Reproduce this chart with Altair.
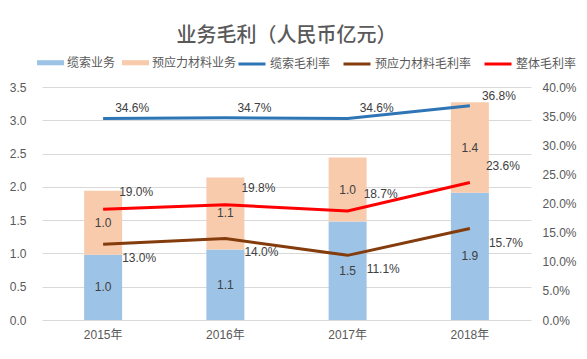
import altair as alt
import pandas as pd

# ---------------- data ----------------
years = ["2015年", "2016年", "2017年", "2018年"]
bar_series = ["缆索业务", "预应力材料业务"]
cable_profit = [0.98, 1.06, 1.48, 1.91]          # 缆索业务 (亿元)
prestress_profit = [0.96, 1.08, 0.96, 1.36]      # 预应力材料业务 (亿元)

line_series = ["缆索毛利率", "预应力材料毛利率", "整体毛利率"]
cable_margin = [0.346, 0.347, 0.346, 0.368]
prestress_margin = [0.130, 0.140, 0.111, 0.157]
total_margin = [0.190, 0.198, 0.187, 0.236]

left_ticks = [0, 0.5, 1.0, 1.5, 2.0, 2.5, 3.0, 3.5]
right_ticks = [0, 0.05, 0.10, 0.15, 0.20, 0.25, 0.30, 0.35, 0.40]

bar_colors = ["#9DC3E6", "#F8CBAD"]
line_colors = ["#2E75B6", "#843C0C", "#FF0000"]

# ---------------- tables ----------------
bars_df = pd.DataFrame(
    [{"year": y, "series": bar_series[0], "value": v, "order": 0} for y, v in zip(years, cable_profit)]
    + [{"year": y, "series": bar_series[1], "value": v, "order": 1} for y, v in zip(years, prestress_profit)]
)
lines_df = pd.DataFrame(
    [{"year": y, "series": s, "rate": r}
     for s, vals in zip(line_series, [cable_margin, prestress_margin, total_margin])
     for y, r in zip(years, vals)]
)

FONT_NUM = "Liberation Sans, Noto Sans CJK SC"
FONT_CJK = "Noto Sans CJK SC"
GREY = "#595959"
LABEL = "#404040"

x_axis = alt.Axis(labelAngle=0, ticks=False, domain=False, labelPadding=9,
                  labelFontSize=12, labelColor=GREY, labelFont=FONT_NUM)
x_scale = alt.Scale(paddingInner=0, paddingOuter=0)

left_axis = alt.Axis(values=left_ticks, format=".1f", ticks=False, domain=False,
                     labelOverlap=False, labelPadding=16, labelFontSize=12,
                     labelColor=GREY, labelFont=FONT_NUM,
                     gridColor="#D9D9D9", gridWidth=1)
right_axis = alt.Axis(orient="right", values=right_ticks, format=".1%", ticks=False,
                      domain=False, grid=False, labelOverlap=False, labelPadding=11,
                      labelFontSize=12, labelColor=GREY, labelFont=FONT_NUM)

y_left_scale = alt.Scale(domain=[0, 3.5], nice=False)
y_right_scale = alt.Scale(domain=[0, 0.4], nice=False)


def xenc():
    return alt.X("year:N", sort=years, title=None, scale=x_scale, axis=x_axis)


bars = alt.Chart(bars_df).mark_bar(size=38).encode(
    x=xenc(),
    y=alt.Y("value:Q", stack="zero", scale=y_left_scale, title=None, axis=left_axis),
    color=alt.Color("series:N", scale=alt.Scale(domain=bar_series, range=bar_colors),
                    legend=alt.Legend(title=None, orient="none", direction="horizontal",
                                      legendX=-5, legendY=-38, padding=0,
                                      symbolType="M-1,-0.19H1V0.19H-1Z", symbolSize=729,
                                      symbolStrokeWidth=0, labelOffset=3, columnPadding=6,
                                      labelFontSize=12, labelColor=GREY, labelFont=FONT_CJK)),
    order=alt.Order("order:Q"),
)

bar_labels = alt.Chart(bars_df).transform_stack(
    stack="value", groupby=["year"], as_=["v0", "v1"], sort=[alt.SortField("order")]
).transform_calculate(
    mid="(datum.v0 + datum.v1) / 2"
).mark_text(fontSize=12, color=LABEL, font=FONT_NUM, baseline="middle").encode(
    x=xenc(),
    y=alt.Y("mid:Q", scale=y_left_scale, title=None, axis=left_axis),
    text=alt.Text("value:Q", format=".1f"),
)

left = alt.layer(bars, bar_labels)

lines = alt.Chart(lines_df).mark_line(strokeWidth=3).encode(
    x=xenc(),
    y=alt.Y("rate:Q", scale=y_right_scale, title=None, axis=right_axis),
    color=alt.Color("series:N", scale=alt.Scale(domain=line_series, range=line_colors),
                    legend=alt.Legend(title=None, orient="none", direction="horizontal",
                                      legendX=195, legendY=-38, padding=0,
                                      symbolType="stroke", symbolSize=729, symbolStrokeWidth=3,
                                      labelOffset=3, columnPadding=6,
                                      labelFontSize=12, labelColor=GREY, labelFont=FONT_CJK)),
)


def line_label(series, dx, dy):
    return alt.Chart(lines_df).transform_filter(
        alt.datum.series == series
    ).mark_text(fontSize=12, color=LABEL, font=FONT_NUM, align="left", baseline="middle",
                dx=dx, dy=dy).encode(
        x=xenc(),
        y=alt.Y("rate:Q", scale=y_right_scale, title=None, axis=right_axis),
        text=alt.Text("rate:Q", format=".1%"),
    )


right = alt.layer(
    lines,
    line_label(line_series[0], 12, -10),
    line_label(line_series[1], 19, 14),
    line_label(line_series[2], 16, -17),
)

chart = alt.layer(left, right).resolve_scale(
    y="independent", color="independent"
).properties(
    width=489, height=233,
    autosize=alt.AutoSizeParams(type="none"),
    padding={"left": 34, "top": 79, "right": 48, "bottom": 31},
    background="white",
    title=alt.Title("业务毛利（人民币亿元）", fontSize=20, font=FONT_CJK, fontWeight=500,
                    color=GREY, anchor="middle", frame="group", offset=3),
).configure_view(stroke="transparent")

chart.save("out.html", embed_options={"renderer": "svg", "actions": False})
